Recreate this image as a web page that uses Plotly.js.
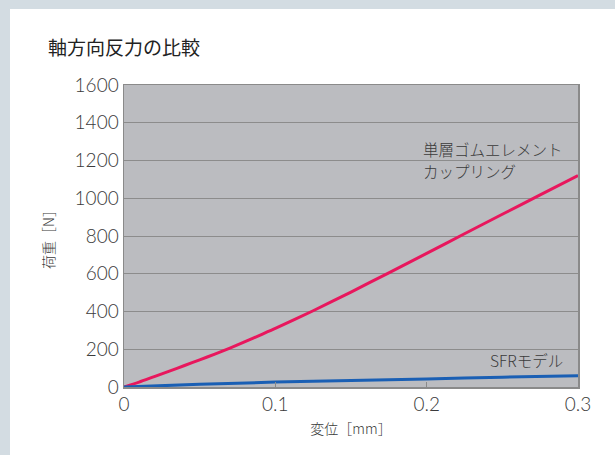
<!DOCTYPE html>
<html>
<head>
<meta charset="utf-8">
<script src="https://cdn.plot.ly/plotly-3.0.1.min.js"></script>
<style>
html,body{margin:0;padding:0;background:#d3dce2;width:615px;height:455px;overflow:hidden;}
#chart{position:absolute;left:10px;top:9px;width:605px;height:446px;background:#fff;}
</style>
</head>
<body>
<div id="chart"></div>
<script>
// Data
const chartTitle = "軸方向反力の比較";
const xTitle = "変位［mm］";
const yTitle = "荷重［N］";
const rubberName1 = "単層ゴムエレメント";
const rubberName2 = "カップリング";
const sfrName = "SFRモデル";

const rubberX = [0, 0.01, 0.02, 0.03, 0.04, 0.05, 0.06, 0.07, 0.08, 0.09, 0.1, 0.125, 0.15, 0.175, 0.2, 0.225, 0.25, 0.275, 0.3];
const rubberY = [0, 26, 55, 84, 114, 144, 174, 206, 240, 275, 310, 404, 503, 605, 708, 812, 915, 1018, 1120];

const sfrX = [0, 0.05, 0.1, 0.15, 0.2, 0.25, 0.3];
const sfrY = [0, 14, 26, 35, 43, 52, 60];

const xTicks = [0, 0.1, 0.2, 0.3];
const xTickText = ["0", "0.1", "0.2", "0.3"];
const yTicks = [0, 200, 400, 600, 800, 1000, 1200, 1400, 1600];

const jp = '"Noto Sans CJK JP", "Noto Sans", sans-serif';
const num = 'Lato, "Noto Sans", sans-serif';
const textColor = '#3a3a3a';

const traces = [
  {x: rubberX, y: rubberY, mode: 'lines', line: {color: '#e8175d', width: 3, shape: 'spline', smoothing: 0.6}, hoverinfo: 'skip'},
  {x: sfrX, y: sfrY, mode: 'lines', line: {color: '#1a5fb4', width: 3, shape: 'spline', smoothing: 0.6}, hoverinfo: 'skip'}
];

const annFont = {family: jp, size: 15.5, weight: 300, color: textColor};

const layout = {
  width: 605, height: 446,
  paper_bgcolor: '#ffffff',
  plot_bgcolor: '#bbbcc0',
  showlegend: false,
  margin: {l: 114, r: 37, t: 76, b: 68},
  title: {
    text: chartTitle,
    font: {family: jp, size: 19, color: '#222'},
    xref: 'container', yref: 'container',
    x: 38/605, xanchor: 'left',
    y: 1 - 39/446, yanchor: 'middle'
  },
  xaxis: {
    range: [0, 0.3],
    tickvals: xTicks, ticktext: xTickText,
    ticks: 'inside', ticklen: 5, tickcolor: '#8a8a8a', tickwidth: 1,
    showgrid: false, zeroline: false,
    showline: true, mirror: true, linecolor: '#8a8a8a', linewidth: 1.5,
    tickfont: {family: num, size: 19, weight: 300, color: textColor},
    title: {text: xTitle, font: {family: jp, size: 14, weight: 300, color: textColor}, standoff: 10}
  },
  yaxis: {
    range: [0, 1600],
    tickvals: yTicks,
    ticks: '', showgrid: true, gridcolor: '#8c8c8c', gridwidth: 1,
    zeroline: false,
    showline: true, mirror: true, linecolor: '#8a8a8a', linewidth: 1.5,
    tickfont: {family: num, size: 19, weight: 300, color: textColor},
    title: {text: yTitle, font: {family: jp, size: 14, weight: 300, color: textColor}, standoff: 16}
  },
  annotations: [
    {x: 0.197, y: 1262, xref: 'x', yref: 'y', text: rubberName1, showarrow: false,
     xanchor: 'left', yanchor: 'middle', align: 'left', font: annFont, borderpad: 0},
    {x: 0.197, y: 1144, xref: 'x', yref: 'y', text: rubberName2, showarrow: false,
     xanchor: 'left', yanchor: 'middle', align: 'left', font: annFont, borderpad: 0},
    {x: 0.2914, y: 143, xref: 'x', yref: 'y', text: sfrName, showarrow: false,
     xanchor: 'right', yanchor: 'middle', align: 'right', font: annFont}
  ]
};

Plotly.newPlot('chart', traces, layout, {displayModeBar: false, staticPlot: true});
</script>
</body>
</html>
